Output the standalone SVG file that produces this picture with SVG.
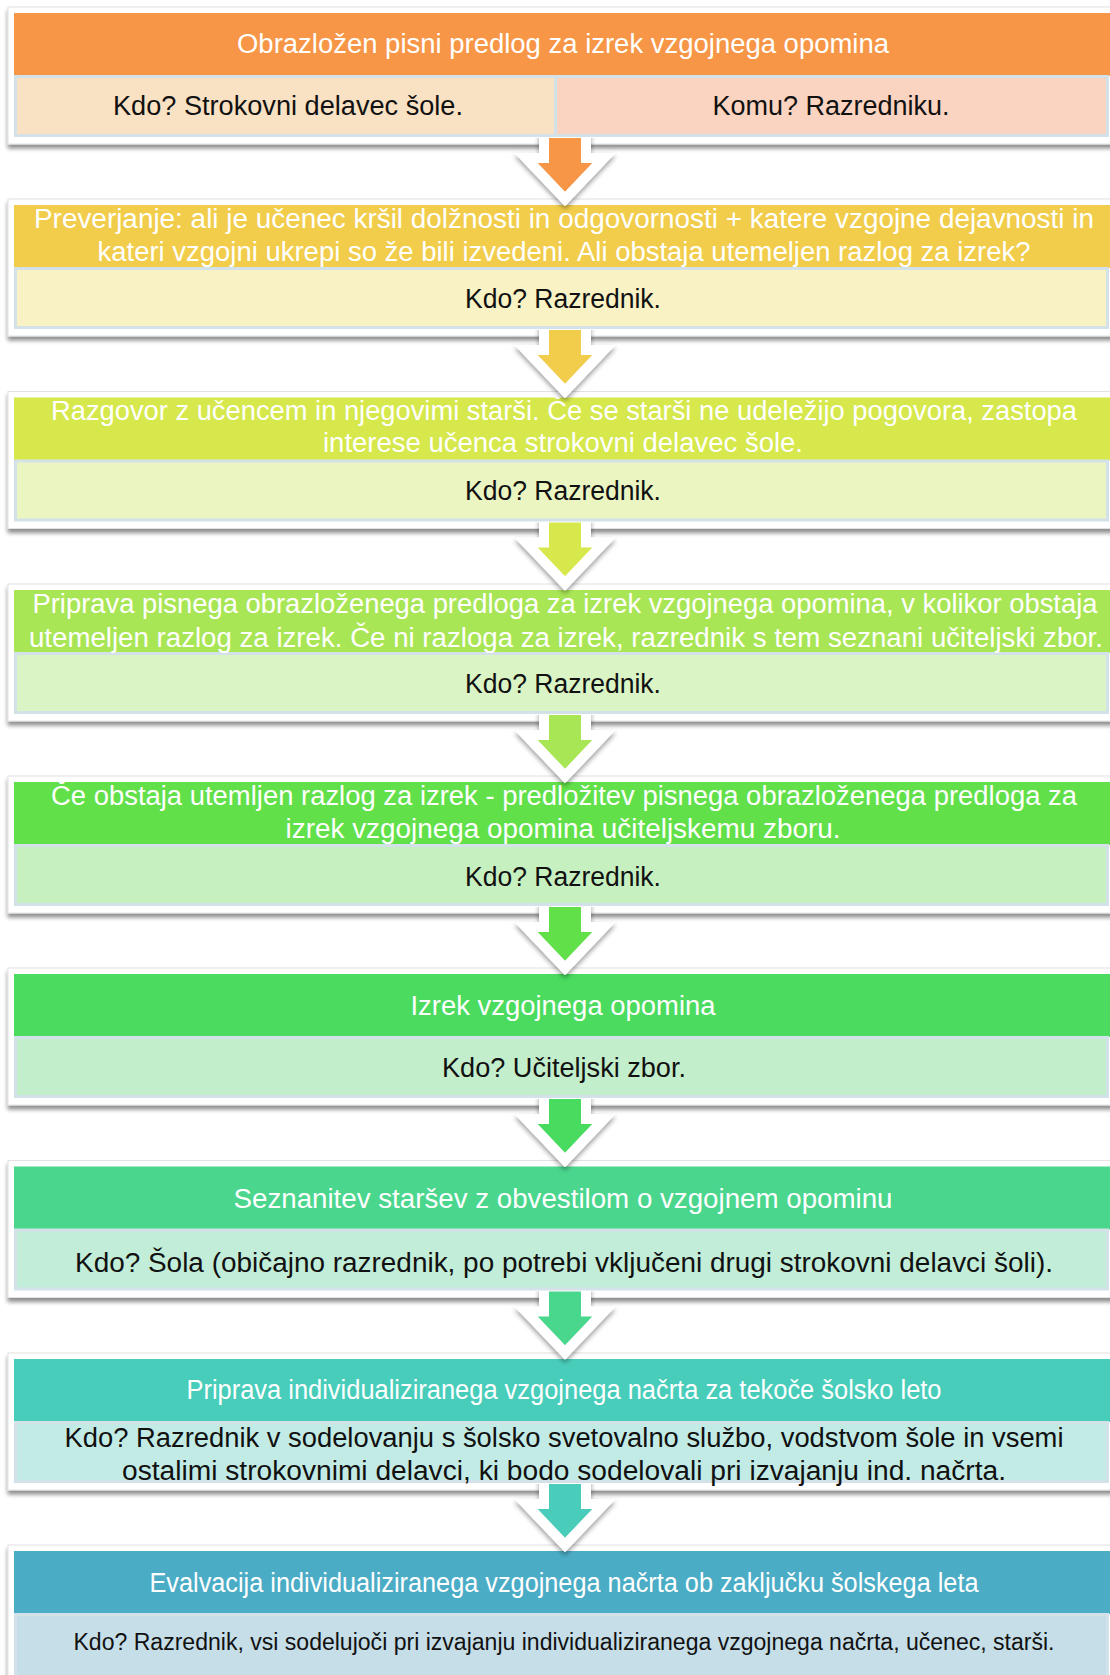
<svg xmlns="http://www.w3.org/2000/svg" width="1110" height="1675" viewBox="0 0 1110 1675">
<defs>
  <filter id="sh" x="-5%" y="-20%" width="110%" height="140%">
    <feGaussianBlur in="SourceAlpha" stdDeviation="2"/>
    <feOffset dx="0" dy="4" result="b"/>
    <feComponentTransfer><feFuncA type="linear" slope="0.45"/></feComponentTransfer>
    <feMerge><feMergeNode/><feMergeNode in="SourceGraphic"/></feMerge>
  </filter>
  <filter id="ash" x="-30%" y="-30%" width="160%" height="160%">
    <feGaussianBlur in="SourceAlpha" stdDeviation="2.5"/>
    <feOffset dx="0" dy="3" result="b"/>
    <feComponentTransfer><feFuncA type="linear" slope="0.4"/></feComponentTransfer>
    <feMerge><feMergeNode/><feMergeNode in="SourceGraphic"/></feMerge>
  </filter>
  <clipPath id="ac"><rect x="400" y="125" width="330" height="110"/></clipPath>
</defs>
<style>
  .frame{fill:#ffffff;stroke:#e2e2e2;stroke-width:1}
  .sub{stroke:#d3e2e8;stroke-width:3}
  .ht{font-family:"Liberation Sans",Arial,sans-serif;font-size:27px;fill:#ffffff;text-anchor:middle;dominant-baseline:central}
  .st{font-family:"Liberation Sans",Arial,sans-serif;font-size:27px;fill:#111111;text-anchor:middle;dominant-baseline:central}
  .arr{stroke:#ffffff;stroke-width:10;stroke-linejoin:miter;stroke-miterlimit:10}
</style>
<rect width="1110" height="1675" fill="#ffffff"/>

<g id="node1">
  <rect class="frame" x="8" y="7" width="1110" height="137" filter="url(#sh)"/>
  <rect x="14" y="13" width="1100" height="63" fill="#F79646"/>
  <rect class="sub" x="15.5" y="76.5" width="540" height="59" fill="#F9E1C3"/>
  <rect class="sub" x="555.5" y="76.5" width="552" height="59" fill="#FAD4C0"/>
  <text class="ht" x="563" y="44" textLength="652" lengthAdjust="spacingAndGlyphs">Obrazložen pisni predlog za izrek vzgojnega opomina</text>
  <text class="st" x="288" y="106" textLength="350" lengthAdjust="spacingAndGlyphs">Kdo? Strokovni delavec šole.</text>
  <text class="st" x="831" y="106" textLength="237" lengthAdjust="spacingAndGlyphs">Komu? Razredniku.</text>
</g>

<g id="node2">
  <rect class="frame" x="8" y="199" width="1110" height="137" filter="url(#sh)"/>
  <rect x="14" y="205" width="1100" height="63" fill="#F1CD4B"/>
  <rect class="sub" x="15.5" y="268.5" width="1092" height="59" fill="#F8F2C4"/>
  <text class="ht" x="564" y="219" textLength="1060" lengthAdjust="spacingAndGlyphs">Preverjanje: ali je učenec kršil dolžnosti in odgovornosti + katere vzgojne dejavnosti in</text>
  <text class="ht" x="564" y="252" textLength="933" lengthAdjust="spacingAndGlyphs">kateri vzgojni ukrepi so že bili izvedeni. Ali obstaja utemeljen razlog za izrek?</text>
  <text class="st" x="563" y="299" textLength="196" lengthAdjust="spacingAndGlyphs">Kdo? Razrednik.</text>
</g>

<g id="node3">
  <rect class="frame" x="8" y="391.5" width="1110" height="137" filter="url(#sh)"/>
  <rect x="14" y="397.5" width="1100" height="63" fill="#D6E84B"/>
  <rect class="sub" x="15.5" y="461" width="1092" height="59" fill="#EAF5C2"/>
  <text class="ht" x="564" y="411" textLength="1026" lengthAdjust="spacingAndGlyphs">Razgovor z učencem in njegovimi starši. Če se starši ne udeležijo pogovora, zastopa</text>
  <text class="ht" x="563" y="443" textLength="480" lengthAdjust="spacingAndGlyphs">interese učenca strokovni delavec šole.</text>
  <text class="st" x="563" y="491" textLength="196" lengthAdjust="spacingAndGlyphs">Kdo? Razrednik.</text>
</g>

<g id="node4">
  <rect class="frame" x="8" y="584" width="1110" height="137" filter="url(#sh)"/>
  <rect x="14" y="590" width="1100" height="63" fill="#A9E656"/>
  <rect class="sub" x="15.5" y="653.5" width="1092" height="59" fill="#DAF4C5"/>
  <text class="ht" x="565" y="604" textLength="1065" lengthAdjust="spacingAndGlyphs">Priprava pisnega obrazloženega predloga za izrek vzgojnega opomina, v kolikor obstaja</text>
  <text class="ht" x="566" y="638" textLength="1074" lengthAdjust="spacingAndGlyphs">utemeljen razlog za izrek. Če ni razloga za izrek, razrednik s tem seznani učiteljski zbor.</text>
  <text class="st" x="563" y="684" textLength="196" lengthAdjust="spacingAndGlyphs">Kdo? Razrednik.</text>
</g>

<g id="node5">
  <rect class="frame" x="8" y="776" width="1110" height="137" filter="url(#sh)"/>
  <rect x="14" y="782" width="1100" height="63" fill="#62E04A"/>
  <rect class="sub" x="15.5" y="845.5" width="1092" height="59" fill="#C7F0C0"/>
  <text class="ht" x="564" y="796" textLength="1026" lengthAdjust="spacingAndGlyphs">Če obstaja utemljen razlog za izrek - predložitev pisnega obrazloženega predloga za</text>
  <text class="ht" x="563" y="829" textLength="555" lengthAdjust="spacingAndGlyphs">izrek vzgojnega opomina učiteljskemu zboru.</text>
  <text class="st" x="563" y="877" textLength="196" lengthAdjust="spacingAndGlyphs">Kdo? Razrednik.</text>
</g>

<g id="node6">
  <rect class="frame" x="8" y="968" width="1110" height="137" filter="url(#sh)"/>
  <rect x="14" y="974" width="1100" height="63" fill="#4ADB5F"/>
  <rect class="sub" x="15.5" y="1037.5" width="1092" height="59" fill="#C3EECB"/>
  <text class="ht" x="563" y="1006" textLength="305" lengthAdjust="spacingAndGlyphs">Izrek vzgojnega opomina</text>
  <text class="st" x="564" y="1068" textLength="244" lengthAdjust="spacingAndGlyphs">Kdo? Učiteljski zbor.</text>
</g>

<g id="node7">
  <rect class="frame" x="8" y="1160.5" width="1110" height="137" filter="url(#sh)"/>
  <rect x="14" y="1166.5" width="1100" height="63" fill="#4AD68D"/>
  <rect class="sub" x="15.5" y="1230" width="1092" height="59" fill="#C2EDD8"/>
  <text class="ht" x="563" y="1199" textLength="659" lengthAdjust="spacingAndGlyphs">Seznanitev staršev z obvestilom o vzgojnem opominu</text>
  <text class="st" x="564" y="1263" textLength="978" lengthAdjust="spacingAndGlyphs">Kdo? Šola (običajno razrednik, po potrebi vključeni drugi strokovni delavci šoli).</text>
</g>

<g id="node8">
  <rect class="frame" x="8" y="1353" width="1110" height="137" filter="url(#sh)"/>
  <rect x="14" y="1359" width="1100" height="63" fill="#48CDBA"/>
  <rect class="sub" x="15.5" y="1422.5" width="1092" height="59" fill="#C3EBE6"/>
  <text class="ht" x="564" y="1390" textLength="755" lengthAdjust="spacingAndGlyphs">Priprava individualiziranega vzgojnega načrta za tekoče šolsko leto</text>
  <text class="st" x="564" y="1438" textLength="999" lengthAdjust="spacingAndGlyphs">Kdo? Razrednik v sodelovanju s šolsko svetovalno službo, vodstvom šole in vsemi</text>
  <text class="st" x="564" y="1471" textLength="884" lengthAdjust="spacingAndGlyphs">ostalimi strokovnimi delavci, ki bodo sodelovali pri izvajanju ind. načrta.</text>
</g>

<g id="node9">
  <rect class="frame" x="8" y="1545" width="1110" height="137" filter="url(#sh)"/>
  <rect x="14" y="1551" width="1100" height="63" fill="#4BACC6"/>
  <rect class="sub" x="15.5" y="1614.5" width="1092" height="62" fill="#C5DEE7"/>
  <text class="ht" x="564" y="1583" textLength="829" lengthAdjust="spacingAndGlyphs">Evalvacija individualiziranega vzgojnega načrta ob zaključku šolskega leta</text>
  <text class="st" x="564" y="1642" style="font-size:23px" textLength="981" lengthAdjust="spacingAndGlyphs">Kdo? Razrednik, vsi sodelujoči pri izvajanju individualiziranega vzgojnega načrta, učenec, starši.</text>
</g>

<g id="connectors">
  <g transform="translate(0,13)"><polygon class="arr" clip-path="url(#ac)" filter="url(#ash)" fill="#F79646" points="544,110 586,110 586,145 604,145 565,186 526,145 544,145"/></g>
  <g transform="translate(0,205)"><polygon class="arr" clip-path="url(#ac)" filter="url(#ash)" fill="#F1CD4B" points="544,110 586,110 586,145 604,145 565,186 526,145 544,145"/></g>
  <g transform="translate(0,397.5)"><polygon class="arr" clip-path="url(#ac)" filter="url(#ash)" fill="#D6E84B" points="544,110 586,110 586,145 604,145 565,186 526,145 544,145"/></g>
  <g transform="translate(0,590)"><polygon class="arr" clip-path="url(#ac)" filter="url(#ash)" fill="#A9E656" points="544,110 586,110 586,145 604,145 565,186 526,145 544,145"/></g>
  <g transform="translate(0,782)"><polygon class="arr" clip-path="url(#ac)" filter="url(#ash)" fill="#62E04A" points="544,110 586,110 586,145 604,145 565,186 526,145 544,145"/></g>
  <g transform="translate(0,974)"><polygon class="arr" clip-path="url(#ac)" filter="url(#ash)" fill="#4ADB5F" points="544,110 586,110 586,145 604,145 565,186 526,145 544,145"/></g>
  <g transform="translate(0,1166.5)"><polygon class="arr" clip-path="url(#ac)" filter="url(#ash)" fill="#4AD68D" points="544,110 586,110 586,145 604,145 565,186 526,145 544,145"/></g>
  <g transform="translate(0,1359)"><polygon class="arr" clip-path="url(#ac)" filter="url(#ash)" fill="#48CDBA" points="544,110 586,110 586,145 604,145 565,186 526,145 544,145"/></g>
</g>
</svg>
